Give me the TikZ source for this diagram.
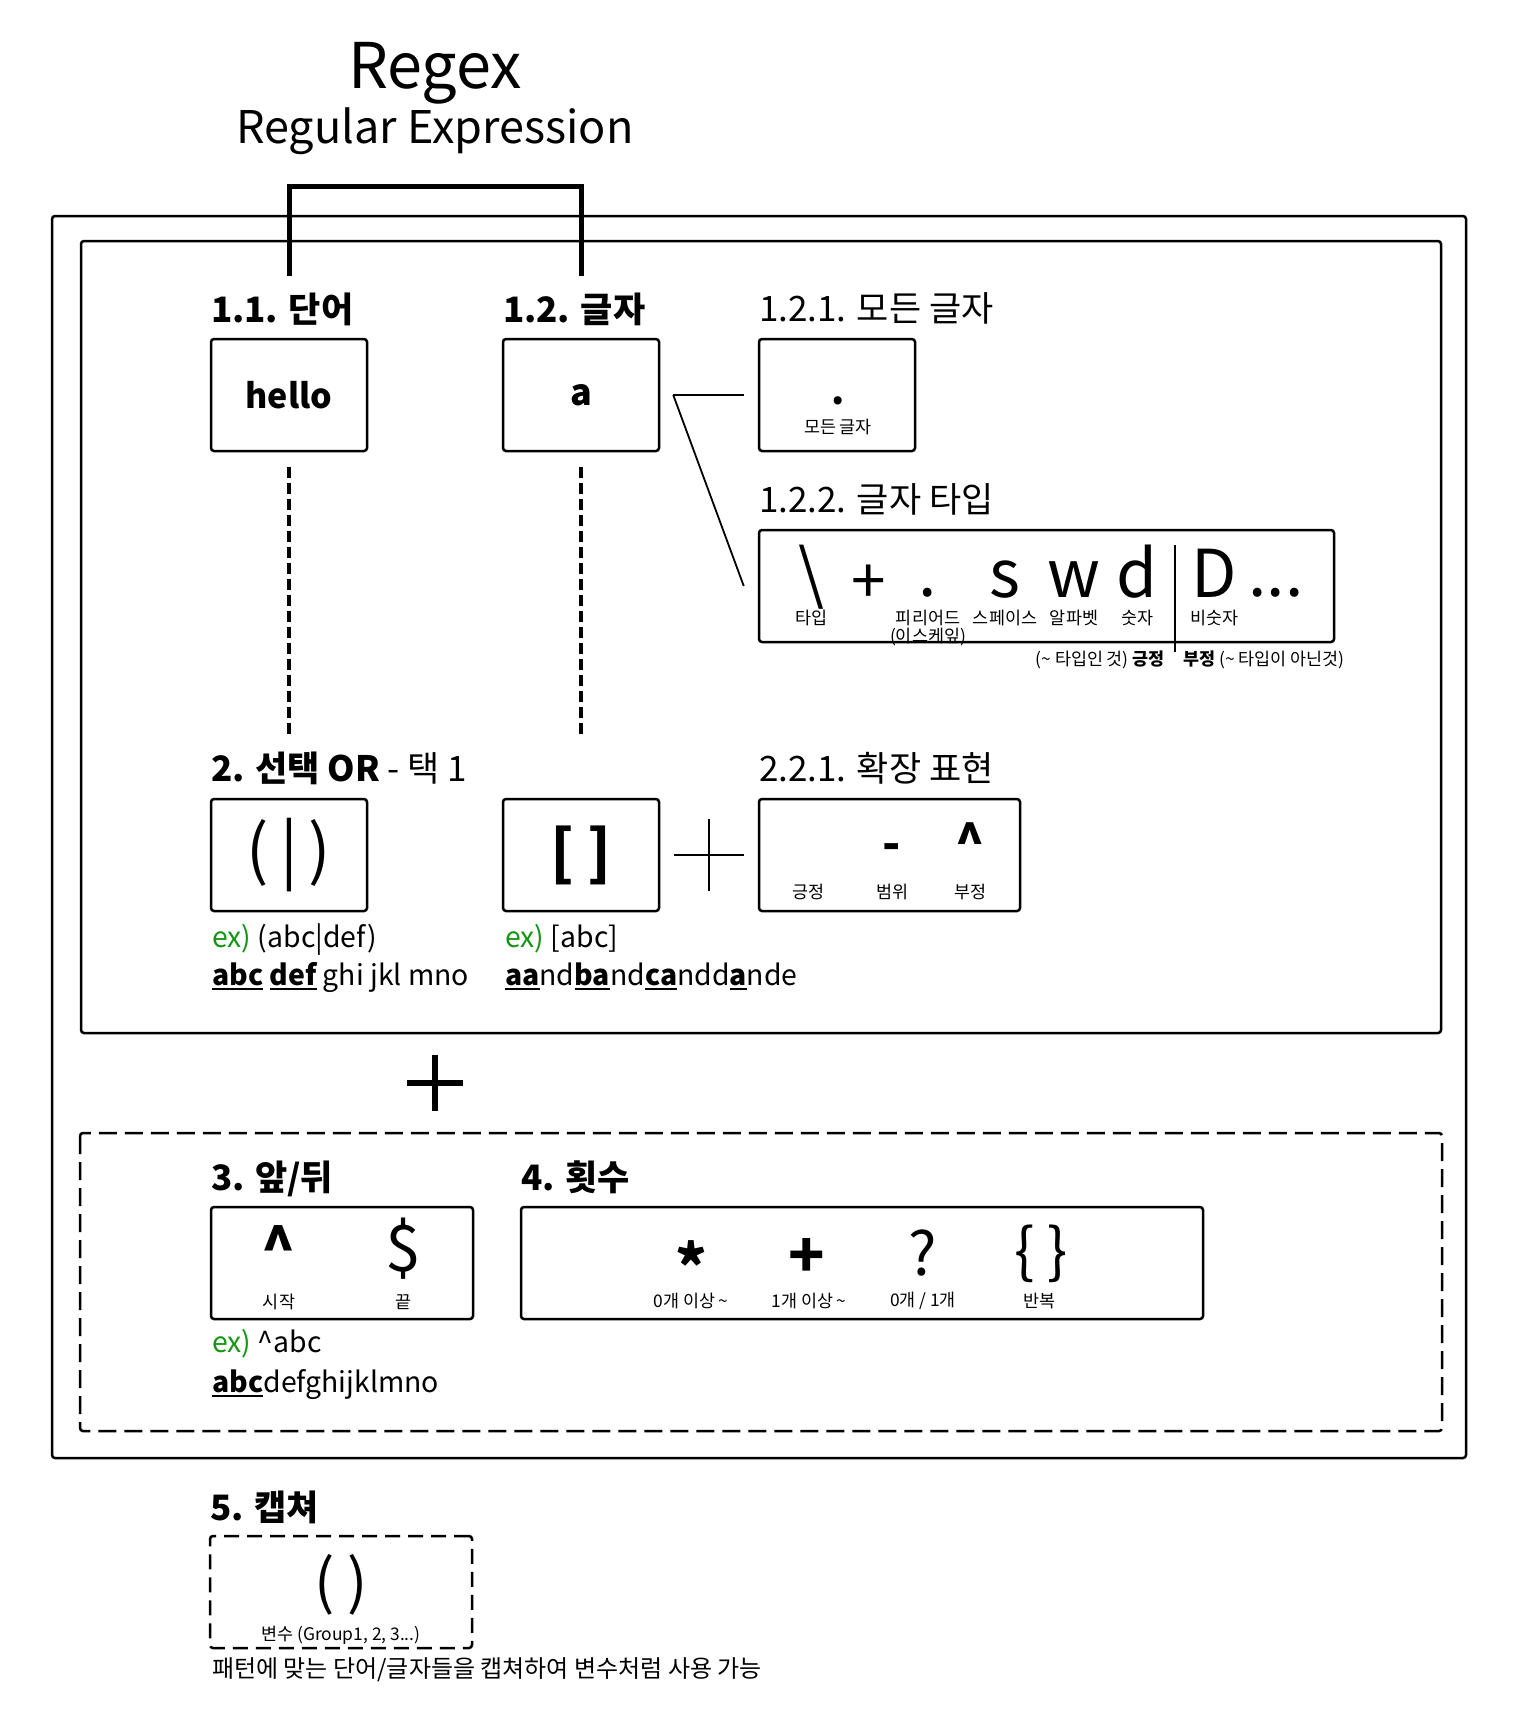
\documentclass[tikz,border=0pt]{standalone}
\usepackage{fontspec}
\setmainfont{Noto Sans CJK KR}
\usetikzlibrary{positioning}

\definecolor{exgreen}{RGB}{20,150,20}
% bold text with a heavy underline
\newcommand\ulbold[1]{\setbox0=\hbox{\bfseries #1}\rlap{\rule[-2.5pt]{\wd0}{1pt}}\box0\relax}

\begin{document}
\begin{tikzpicture}[x=0.5pt, y=-0.5pt, line width=1.25pt,
        frame/.style = {draw, rounded corners=1.5pt},
        dashframe/.style = {frame, dash pattern=on 9pt off 4pt},
        box/.style = {draw, rounded corners=1.5pt, inner sep=0pt, minimum width=78pt, minimum height=56pt},
        head/.style = {anchor=base west, inner sep=0pt, font=\fontsize{17.5}{20}\selectfont},
        bhead/.style = {head, font=\fontsize{17.5}{20}\selectfont\bfseries},
        ex/.style = {anchor=base west, inner sep=0pt, font=\fontsize{14.2}{17}\selectfont},
        note/.style = {inner sep=0pt, font=\fontsize{8.7}{9.5}\selectfont},
        big/.style = {anchor=base, inner sep=0pt, font=\fontsize{33}{36}\selectfont},
        sym/.style = {anchor=base, inner sep=0pt, font=\fontsize{24}{26}\selectfont\bfseries},
        bracket/.style = {line width=2.5pt},
        vdash/.style = {line width=2pt, dash pattern=on 5.5pt off 2.5pt},
        thin/.style = {line width=0.9pt},
        ]
        \useasboundingbox (0,0) rectangle (1519,1735);

        % title
        \node [anchor=base, inner sep=0pt, font=\fontsize{31.5}{34}\selectfont] (regex) at (435,88) {Regex};
        \node [anchor=base, inner sep=0pt, font=\fontsize{22.5}{26}\selectfont] (regexfull) at (435,143) {Regular Expression};

        % frames
        \draw [frame] (52,216) rectangle (1466,1458);
        \draw [frame] (81,241) rectangle (1441,1033);
        \draw [dashframe] (80,1133) rectangle (1442,1431);

        % 1. word / letter
        \node [box, font=\fontsize{17}{20}\selectfont\bfseries] (hello) at (289,395) {hello};
        \node [box, right=66.75pt of hello, font=\fontsize{18}{20}\selectfont\bfseries] (letter) {a};
        \node [box, right=48.75pt of letter] (anydot) {};
        \node [box, minimum width=287.5pt, below=38.25pt of anydot.south west, anchor=north west] (chartype) {};

        \node [bhead] (t11) at ([yshift=7.5pt]hello.north west) {1.1. 단어};
        \node [bhead] (t12) at ([yshift=7.5pt]letter.north west) {1.2. 글자};
        \node [head] (t121) at ([yshift=8pt]anydot.north west) {1.2.1. 모든 글자};
        \node [head] (t122) at ([yshift=8pt]chartype.north west) {1.2.2. 글자 타입};

        \path (hello.north) ++(0,-62) coordinate (brl);
        \path (letter.north) ++(0,-62) coordinate (brr);
        \draw [bracket] (brl) -- ++(0,-89) -| (brr);

        % any letter
        \node [anchor=base, inner sep=0pt, font=\fontsize{19}{22}\selectfont\bfseries] (dot) at (838,404) {.};
        \node [note] (dotlbl) at (838,427) {모든 글자};

        % letter types
        \node [big] (bslash) at (811,597) {\textbackslash};
        \node [inner sep=0pt, font=\fontsize{31}{33}\selectfont] (join) at (869,584) {+};
        \node [big] (period) at (928,596) {.};
        \node [big] (space) at (1005,597) {s};
        \node [big] (word) at (1074,597) {w};
        \node [big] (digit) at (1137,597) {d};
        \node [big] (nondigit) at (1214,597) {D};
        \node [big] (more) at (1276,596) {...};
        \draw [thin] (1175,545) -- (1175,652);

        \node [note] at (bslash |- 0,618) {타입};
        \node [note] (periodlbl) at (period |- 0,618) {피리어드};
        \node [note] at (period |- 0,637) {(이스케잎)};
        \node [note] at (space |- 0,618) {스페이스};
        \node [note] at (word |- 0,618) {알파벳};
        \node [note] at (digit |- 0,618) {숫자};
        \node [note] at (nondigit |- 0,618) {비숫자};
        \node [note, anchor=east] (posnote) at (1166,660) {(\textasciitilde\ 타입인 것) \textbf{긍정}};
        \node [note, anchor=west] (negnote) at (1182,660) {\textbf{부정} (\textasciitilde\ 타입이 아닌것)};

        \draw [thin] (letter.east) ++(13,0) coordinate (fork) -- ([xshift=-7pt]anydot.west);
        \draw [thin] (fork) -- ([xshift=-7pt]chartype.west);

        % 2. choice
        \node [box, font=\fontsize{33}{36}\selectfont] (orbox) at (289,855) {(\,|\,)};
        \node [box, right=66.75pt of orbox, font=\fontsize{30}{32}\selectfont\bfseries] (clsbox) {[ ]};
        \node [box, right=48.75pt of clsbox, minimum width=130.5pt] (ext) {};

        \node [head] (t2) at ([yshift=8pt]orbox.north west) {\textbf{2. 선택 OR} - 택 1};
        \node [head] (t221) at ([yshift=8pt]ext.north west) {2.2.1. 확장 표현};

        \draw [vdash] (hello.south) ++(0,15) -- ++(0,270);
        \draw [vdash] (letter.south) ++(0,15) -- ++(0,270);

        \path (clsbox.east) -- coordinate[midway] (plusmid) (ext.west);
        \draw [thin] ([xshift=7pt]clsbox.east) -- ([xshift=-7pt]ext.west);
        \draw [thin] (plusmid) ++(0,-36) -- ++(0,72);

        \node [sym] (range) at (892,860) {-};
        \node [sym] (negate) at (970,859) {\textasciicircum};
        \node [note] at (808,892) {긍정};
        \node [note] at (range |- 0,892) {범위};
        \node [note] at (negate |- 0,892) {부정};

        \node [ex] (orex) at (211,947) {\textcolor{exgreen}{ex)} (abc|def)};
        \node [ex] (orhit) at (211,985) {\ulbold{abc} \ulbold{def} ghi jkl mno};
        \node [ex] (clsex) at (504,947) {\textcolor{exgreen}{ex)} [abc]};
        \node [ex] (clshit) at (504,985) {\ulbold{aa}nd\ulbold{ba}nd\ulbold{ca}ndd\ulbold{a}nde};

        % plus
        \coordinate (bigplus) at (435,1083);
        \draw [line width=3pt] (bigplus) ++(-28,0) -- ++(56,0);
        \draw [line width=3pt] (bigplus) ++(0,-28) -- ++(0,56);

        % 3. start / end
        \node [box, minimum width=131pt] (edgebox) at (342,1263) {};
        \node [box, right=22.75pt of edgebox, minimum width=341pt] (countbox) {};
        \node [bhead] (t3) at ([yshift=7.5pt]edgebox.north west) {3. 앞/뒤};
        \node [bhead] (t4) at ([yshift=7.5pt]countbox.north west) {4. 횟수};

        \node [sym, font=\fontsize{28}{30}\selectfont\bfseries] (start) at (279,1268) {\textasciicircum};
        \node [sym, font=\fontsize{32}{34}\selectfont] (end) at (403,1271) {\$};
        \node [note] at (start |- 0,1302) {시작};
        \node [note] at (end |- 0,1302) {끝};

        \node [ex] (edgeex) at (211,1352) {\textcolor{exgreen}{ex)} \textasciicircum abc};
        \node [ex] (edgehit) at (211,1392) {\ulbold{abc}defghijklmno};

        % 4. count
        \node [sym, font=\fontsize{30}{32}\selectfont\bfseries] (star) at (691,1289) {*};
        \node [sym, font=\fontsize{30}{32}\selectfont\bfseries] (plus) at (807,1277) {+};
        \node [sym, font=\fontsize{30}{32}\selectfont] (quest) at (923,1275) {?};
        \node [sym, font=\fontsize{30}{32}\selectfont] (brace) at (1041,1272) {\{ \}};
        \node [note] at (star |- 0,1301) {0개 이상 \textasciitilde};
        \node [note] at (809,1301) {1개 이상 \textasciitilde};
        \node [note] at (quest |- 0,1301) {0개 / 1개};
        \node [note] at (1039,1301) {반복};

        % 5. capture
        \node [box, dash pattern=on 7.5pt off 4pt, minimum width=131pt] (capbox) at (341,1592) {};
        \node [bhead] (t5) at ([yshift=7pt]capbox.north west) {5. 캡쳐};
        \node [inner sep=0pt, font=\fontsize{30}{32}\selectfont] (group) at (341,1585) {( )};
        \node [note] (grouplbl) at (341,1635) {변수 (Group1, 2, 3...)};
        \node [anchor=west, inner sep=0pt, font=\fontsize{12}{14}\selectfont] (capnote) at (211,1670) {패턴에 맞는 단어/글자들을 캡쳐하여 변수처럼 사용 가능};

    \end{tikzpicture}
\end{document}
